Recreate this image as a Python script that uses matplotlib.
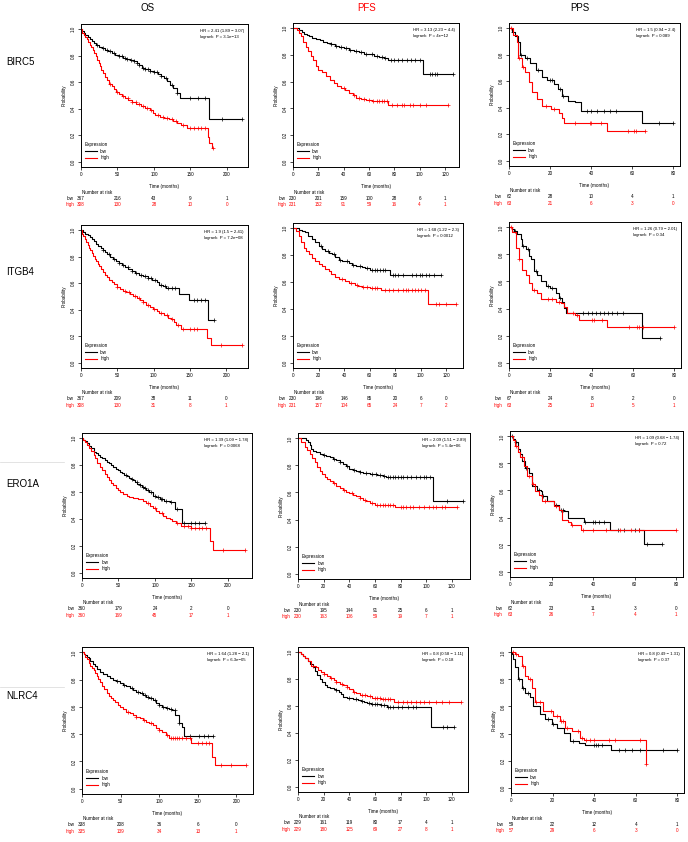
import matplotlib
matplotlib.use("Agg")
import matplotlib.pyplot as plt
from matplotlib.lines import Line2D
import numpy as np

plt.rcParams['font.family'] = ['Liberation Sans', 'DejaVu Sans']

genes = ["BIRC5", "ITGB4", "ERO1A", "NLRC4"]
endpoints = ["OS", "PFS", "PPS"]
os_ticks = [0, 50, 100, 150, 200]
pfs_ticks = [0, 20, 40, 60, 80, 100, 120]
pps_ticks = [0, 20, 40, 60, 80]

# ---------------- BIRC5 ----------------
birc5_os_low_t = [0, 2, 4, 6, 9, 12, 15, 18, 21, 25, 29, 33, 37, 42, 47, 52, 57, 62, 67, 72, 77, 80, 84, 88, 95, 100, 105, 110, 114, 118, 122, 126, 131, 136, 175]
birc5_os_low_s = [1.0, 0.985, 0.97, 0.955, 0.94, 0.925, 0.91, 0.895, 0.88, 0.865, 0.855, 0.845, 0.835, 0.82, 0.805, 0.795, 0.785, 0.775, 0.765, 0.76, 0.745, 0.73, 0.71, 0.70, 0.685, 0.675, 0.665, 0.65, 0.635, 0.61, 0.58, 0.56, 0.52, 0.48, 0.32]
birc5_os_low_end = 220
birc5_os_low_cens = [22, 30, 36, 40, 45, 52, 56, 60, 63, 68, 72, 77, 80, 85, 88, 92, 95, 100, 104, 110, 116, 125, 132, 150, 160, 170, 193, 220]
birc5_os_high_t = [0, 1, 2, 4, 6, 8, 10, 12, 14, 16, 18, 20, 22, 24, 26, 28, 30, 33, 36, 39, 42, 45, 48, 52, 56, 60, 65, 70, 76, 82, 88, 94, 98, 102, 108, 114, 120, 126, 132, 137, 145, 174, 176, 179]
birc5_os_high_s = [1.0, 0.985, 0.97, 0.955, 0.94, 0.925, 0.905, 0.885, 0.865, 0.845, 0.82, 0.795, 0.77, 0.745, 0.72, 0.695, 0.67, 0.64, 0.615, 0.59, 0.57, 0.55, 0.53, 0.51, 0.495, 0.48, 0.465, 0.45, 0.435, 0.42, 0.405, 0.39, 0.37, 0.355, 0.34, 0.33, 0.32, 0.305, 0.29, 0.275, 0.255, 0.19, 0.14, 0.10]
birc5_os_high_end = 181
birc5_os_high_cens = [40, 50, 58, 64, 70, 75, 80, 85, 90, 96, 105, 112, 118, 124, 130, 140, 150, 155, 160, 165, 170, 181]
birc5_os_risk_low = [367, 216, 43, 9, 1]
birc5_os_risk_high = [308, 130, 28, 10, 0]
birc5_os_hr = "HR = 2.41 (1.89 \u2212 3.07)"
birc5_os_p = "3.1e\u221213"

birc5_pfs_low_t = [0, 5, 7, 9, 11, 13, 15, 18, 21, 24, 27, 30, 33, 36, 40, 44, 48, 52, 56, 60, 64, 68, 72, 75, 103]
birc5_pfs_low_s = [1.0, 0.99, 0.975, 0.96, 0.95, 0.94, 0.93, 0.92, 0.91, 0.9, 0.89, 0.88, 0.87, 0.86, 0.85, 0.84, 0.83, 0.82, 0.81, 0.805, 0.795, 0.785, 0.775, 0.765, 0.658]
birc5_pfs_low_end = 126
birc5_pfs_low_cens = [30, 34, 38, 42, 45, 50, 54, 58, 62, 66, 70, 73, 77, 80, 83, 86, 90, 93, 96, 100, 108, 110, 112, 114, 126]
birc5_pfs_high_t = [0, 3, 4.5, 6, 8, 10, 12, 14, 16, 18, 20, 23, 26, 29, 32, 35, 38, 41, 44, 47, 50, 54, 58, 62, 75]
birc5_pfs_high_s = [1.0, 0.985, 0.966, 0.94, 0.9, 0.86, 0.83, 0.79, 0.76, 0.72, 0.69, 0.67, 0.645, 0.615, 0.59, 0.565, 0.55, 0.535, 0.515, 0.497, 0.48, 0.47, 0.46, 0.452, 0.426]
birc5_pfs_high_end = 122
birc5_pfs_high_cens = [40, 48, 52, 56, 60, 63, 66, 68, 70, 72, 74, 78, 82, 86, 88, 92, 95, 100, 105, 122]
birc5_pfs_risk_low = [230, 201, 159, 100, 28, 6, 1]
birc5_pfs_risk_high = [231, 152, 91, 59, 16, 4, 1]
birc5_pfs_hr = "HR = 3.13 (2.23 \u2212 4.4)"
birc5_pfs_p = "4e\u221212"

birc5_pps_low_t = [0, 1.3, 3, 4.6, 5.5, 8, 10.4, 13, 16, 18.7, 22, 23.7, 26, 28.6, 32, 35, 64.7]
birc5_pps_low_s = [1.0, 0.97, 0.94, 0.9, 0.8, 0.774, 0.735, 0.684, 0.632, 0.607, 0.58, 0.54, 0.49, 0.452, 0.44, 0.375, 0.285]
birc5_pps_low_end = 80
birc5_pps_low_cens = [2, 6, 9, 14, 20, 21, 25, 26.5, 38, 40, 43, 46, 49, 52, 73, 80]
birc5_pps_high_t = [0, 2, 3.8, 4.6, 6.3, 8, 9.6, 11.3, 13.7, 16.2, 20.4, 24.5, 26, 27, 47.7]
birc5_pps_high_s = [1.0, 0.95, 0.9, 0.774, 0.71, 0.67, 0.594, 0.517, 0.465, 0.414, 0.388, 0.362, 0.324, 0.285, 0.224]
birc5_pps_high_end = 66
birc5_pps_high_cens = [1, 5, 7, 18, 22, 32, 39.5, 40, 45, 58, 61, 62, 66]
birc5_pps_risk_low = [62, 28, 10, 4, 1]
birc5_pps_risk_high = [63, 21, 6, 3, 0]
birc5_pps_hr = "HR = 1.5 (0.94 \u2212 2.4)"
birc5_pps_p = "0.089"

# ---------------- ITGB4 ----------------
itgb4_os_low_t = [0, 3, 6, 9, 12, 15, 18, 21, 24, 27, 30, 33, 36, 40, 44, 48, 52, 56, 60, 65, 70, 75, 80, 86, 92, 98, 104, 108, 113, 117, 135, 149, 175]
itgb4_os_low_s = [1.0, 0.99, 0.975, 0.965, 0.95, 0.935, 0.92, 0.9, 0.88, 0.865, 0.85, 0.835, 0.82, 0.8, 0.785, 0.765, 0.75, 0.735, 0.72, 0.705, 0.69, 0.678, 0.665, 0.655, 0.642, 0.625, 0.61, 0.59, 0.578, 0.562, 0.521, 0.477, 0.323]
itgb4_os_low_end = 183
itgb4_os_low_cens = [30, 38, 45, 52, 58, 64, 70, 76, 82, 88, 92, 96, 102, 110, 115, 120, 125, 130, 155, 160, 165, 170, 183]
itgb4_os_high_t = [0, 1, 2, 3, 5, 7, 9, 11, 13, 15, 17, 19, 21, 23, 25, 27, 30, 33, 36, 39, 42, 45, 49, 53, 58, 62, 67, 72, 77, 81, 86, 90, 95, 99, 104, 108, 114, 120, 124, 128, 131, 137.6, 174, 178.6]
itgb4_os_high_s = [1.0, 0.985, 0.97, 0.955, 0.935, 0.91, 0.89, 0.87, 0.85, 0.83, 0.805, 0.785, 0.765, 0.745, 0.73, 0.71, 0.685, 0.665, 0.645, 0.625, 0.61, 0.595, 0.575, 0.56, 0.545, 0.533, 0.52, 0.505, 0.49, 0.47, 0.455, 0.438, 0.42, 0.405, 0.39, 0.379, 0.36, 0.34, 0.328, 0.31, 0.285, 0.251, 0.19, 0.131]
itgb4_os_high_end = 221
itgb4_os_high_cens = [50, 60, 66, 74, 80, 86, 92, 100, 110, 118, 125, 133, 140, 150, 155, 160, 193, 221]
itgb4_os_risk_low = [367, 209, 38, 11, 0]
itgb4_os_risk_high = [308, 130, 31, 8, 1]
itgb4_os_hr = "HR = 1.9 (1.5 \u2212 2.41)"
itgb4_os_p = "7.2e\u221208"

itgb4_pfs_low_t = [0, 4.4, 7, 9.6, 12, 14.8, 17, 20, 23, 25, 28, 30.4, 33, 35.6, 38, 40.8, 44, 46, 49, 51, 54, 56, 60, 76]
itgb4_pfs_low_s = [1.0, 0.99, 0.98, 0.97, 0.945, 0.919, 0.895, 0.869, 0.85, 0.831, 0.818, 0.806, 0.785, 0.768, 0.76, 0.755, 0.74, 0.73, 0.722, 0.717, 0.71, 0.705, 0.687, 0.654]
itgb4_pfs_low_end = 116
itgb4_pfs_low_cens = [22, 27, 32, 37, 42, 47, 52, 58, 62, 64, 66, 68, 70, 72, 78, 80, 82, 86, 93, 96, 99, 101, 104, 106, 110, 116]
itgb4_pfs_high_t = [0, 2, 4.4, 6, 8.3, 10, 12.2, 15, 17.4, 20, 22.6, 25, 27.8, 30, 33, 36, 40.8, 44, 48.6, 51, 53.8, 60, 69, 105.7]
itgb4_pfs_high_s = [1.0, 0.98, 0.944, 0.9, 0.856, 0.83, 0.806, 0.78, 0.755, 0.735, 0.717, 0.7, 0.679, 0.66, 0.641, 0.625, 0.609, 0.595, 0.578, 0.57, 0.561, 0.553, 0.54, 0.434]
itgb4_pfs_high_end = 127.8
itgb4_pfs_high_cens = [38, 45, 50, 55, 58, 62, 64, 66, 72, 75, 78, 82, 86, 88, 90, 93, 95, 98, 100, 103, 112, 114, 120, 127.8]
itgb4_pfs_risk_low = [230, 196, 146, 85, 20, 6, 0]
itgb4_pfs_risk_high = [231, 157, 104, 65, 24, 7, 2]
itgb4_pfs_hr = "HR = 1.68 (1.22 \u2212 2.3)"
itgb4_pfs_p = "0.0012"

itgb4_pps_low_t = [0, 1.6, 2.4, 4, 5.6, 6.5, 8, 9.7, 10.5, 12, 13.7, 15.3, 17.7, 20, 22.6, 24.2, 25.8, 26.6, 27.4, 64.5]
itgb4_pps_low_s = [1.0, 0.985, 0.97, 0.95, 0.913, 0.863, 0.838, 0.788, 0.763, 0.676, 0.651, 0.601, 0.564, 0.551, 0.514, 0.476, 0.451, 0.401, 0.364, 0.182]
itgb4_pps_low_end = 73
itgb4_pps_low_cens = [3, 7, 9, 13, 19, 21, 24.5, 36, 38, 40, 42, 44, 46, 48, 50, 52, 55, 73]
itgb4_pps_high_t = [0, 1.6, 3.2, 4.8, 6.5, 8, 9.7, 11.3, 13.7, 15.3, 22.6, 25, 26.6, 28.2, 32, 34, 47.6]
itgb4_pps_high_s = [1.0, 0.963, 0.85, 0.763, 0.688, 0.651, 0.589, 0.539, 0.514, 0.471, 0.451, 0.439, 0.414, 0.364, 0.352, 0.314, 0.262]
itgb4_pps_high_end = 80
itgb4_pps_high_cens = [1, 5, 12, 19, 21, 24, 31, 33, 40, 41, 45, 58, 62, 63, 65, 80]
itgb4_pps_risk_low = [67, 24, 8, 2, 0]
itgb4_pps_risk_high = [63, 25, 10, 5, 1]
itgb4_pps_hr = "HR = 1.26 (0.79 \u2212 2.01)"
itgb4_pps_p = "0.34"

# ---------------- ERO1A ----------------
ero1a_os_low_t = [0, 2, 4, 6.8, 9, 12, 15.9, 19, 22, 25, 28, 31, 34, 37, 40, 43, 46, 49, 52, 55, 58, 61, 64, 67, 70, 73, 76, 79, 82, 85, 88, 92, 97.5, 102, 106.6, 113, 120, 127, 137]
ero1a_os_low_s = [1.0, 0.99, 0.98, 0.965, 0.945, 0.925, 0.902, 0.89, 0.877, 0.864, 0.851, 0.839, 0.826, 0.813, 0.8, 0.788, 0.775, 0.763, 0.751, 0.74, 0.729, 0.718, 0.708, 0.698, 0.688, 0.675, 0.662, 0.65, 0.64, 0.628, 0.617, 0.6, 0.574, 0.562, 0.549, 0.537, 0.524, 0.474, 0.373]
ero1a_os_low_end = 168
ero1a_os_low_cens = [60, 68, 75, 80, 84, 86, 90, 95, 100, 104, 108, 110, 115, 122, 130, 140, 150, 155, 160, 168]
ero1a_os_high_t = [0, 2, 4, 6.8, 9, 12, 15.9, 18, 21, 25, 28, 31, 34, 37, 40, 43, 46, 49, 52, 56, 61, 65, 70, 77, 84, 88, 93, 97, 102, 106, 111, 115, 120, 124, 129, 136, 150, 175.5, 179]
ero1a_os_high_s = [1.0, 0.985, 0.97, 0.952, 0.93, 0.905, 0.877, 0.855, 0.82, 0.788, 0.765, 0.738, 0.713, 0.69, 0.668, 0.65, 0.632, 0.615, 0.6, 0.588, 0.574, 0.565, 0.557, 0.547, 0.537, 0.518, 0.499, 0.48, 0.461, 0.442, 0.423, 0.41, 0.398, 0.385, 0.373, 0.348, 0.335, 0.234, 0.171]
ero1a_os_high_end = 224
ero1a_os_high_cens = [90, 100, 110, 130, 140, 145, 150, 155, 160, 165, 170, 193, 224]
ero1a_os_risk_low = [360, 179, 24, 2, 0]
ero1a_os_risk_high = [360, 169, 45, 17, 1]
ero1a_os_hr = "HR = 1.39 (1.09 \u2212 1.78)"
ero1a_os_p = "0.0068"

ero1a_pfs_low_t = [0, 6, 7.8, 9, 10.4, 12, 14.3, 17, 19.5, 22, 24.7, 27, 30, 32.5, 35, 37.5, 40, 43, 45.6, 48, 50.8, 56, 62, 66.4, 69, 105.5]
ero1a_pfs_low_s = [1.0, 0.99, 0.975, 0.95, 0.925, 0.91, 0.9, 0.887, 0.874, 0.868, 0.862, 0.85, 0.837, 0.825, 0.812, 0.793, 0.774, 0.768, 0.762, 0.752, 0.741, 0.736, 0.73, 0.724, 0.711, 0.535]
ero1a_pfs_low_end = 129
ero1a_pfs_low_cens = [20, 28, 33, 38, 44, 48, 53, 58, 61, 64, 67, 70, 72, 74, 76, 78, 80, 82, 85, 88, 92, 95, 98, 100, 103, 116, 129]
ero1a_pfs_high_t = [0, 2.6, 5.2, 7, 9.1, 11, 13, 15, 17, 19, 20.8, 22.7, 24.7, 27, 30, 32.5, 35, 37.5, 40, 43, 45.6, 48, 50.8, 53, 56, 60, 76]
ero1a_pfs_high_s = [1.0, 0.975, 0.937, 0.912, 0.887, 0.855, 0.824, 0.792, 0.761, 0.736, 0.711, 0.698, 0.686, 0.667, 0.648, 0.632, 0.616, 0.607, 0.598, 0.585, 0.573, 0.56, 0.548, 0.535, 0.523, 0.51, 0.49]
ero1a_pfs_high_end = 123.7
ero1a_pfs_high_cens = [28, 36, 42, 48, 52, 58, 62, 64, 66, 68, 70, 72, 74, 80, 82, 84, 87, 90, 94, 98, 102, 105, 108, 112, 115, 123.7]
ero1a_pfs_risk_low = [230, 195, 144, 91, 25, 6, 1]
ero1a_pfs_risk_high = [230, 163, 106, 59, 19, 7, 1]
ero1a_pfs_hr = "HR = 2.09 (1.51 \u2212 2.89)"
ero1a_pfs_p = "5.4e\u221206"

ero1a_pps_low_t = [0, 1.6, 2.4, 4, 4.9, 5.7, 7.3, 9, 10.6, 13, 14.7, 15.5, 18, 20.4, 21.2, 23.6, 26, 27.7, 35.8, 48, 64.3]
ero1a_pps_low_s = [1.0, 0.98, 0.957, 0.907, 0.87, 0.82, 0.77, 0.732, 0.632, 0.607, 0.595, 0.557, 0.525, 0.52, 0.495, 0.457, 0.445, 0.40, 0.365, 0.3075, 0.207]
ero1a_pps_low_end = 73
ero1a_pps_low_cens = [1, 3, 7.5, 8, 14, 16, 22, 24.5, 25.5, 36, 40, 41, 43, 45, 52, 55, 60, 62, 66, 73]
ero1a_pps_high_t = [0, 1.6, 2.4, 4, 4.9, 6.5, 8.1, 10.6, 12.2, 13.8, 15.5, 21.2, 23.6, 25.2, 27.7, 29.3, 34.2]
ero1a_pps_high_s = [1.0, 0.97, 0.932, 0.882, 0.845, 0.782, 0.707, 0.645, 0.595, 0.57, 0.52, 0.482, 0.457, 0.382, 0.37, 0.345, 0.307]
ero1a_pps_high_end = 80
ero1a_pps_high_cens = [3, 6, 9, 11, 17, 22, 30, 35, 40, 46, 53, 58, 62, 80]
ero1a_pps_risk_low = [62, 23, 11, 3, 0]
ero1a_pps_risk_high = [63, 26, 7, 4, 1]
ero1a_pps_hr = "HR = 1.09 (0.68 \u2212 1.74)"
ero1a_pps_p = "0.72"

# ---------------- NLRC4 ----------------
nlrc4_os_low_t = [0, 2, 4, 6, 8.5, 11, 14, 17, 20, 23.4, 27, 32, 36, 40, 44, 49, 53, 57.4, 62, 66, 70, 74.5, 79, 83, 87, 91.5, 96, 100, 104, 108.5, 113, 117, 121, 125.5, 130, 132]
nlrc4_os_low_s = [1.0, 0.99, 0.98, 0.97, 0.958, 0.94, 0.918, 0.897, 0.878, 0.86, 0.845, 0.828, 0.814, 0.80, 0.787, 0.774, 0.762, 0.75, 0.737, 0.725, 0.712, 0.70, 0.688, 0.676, 0.663, 0.651, 0.632, 0.614, 0.602, 0.59, 0.583, 0.577, 0.54, 0.479, 0.455, 0.388]
nlrc4_os_low_end = 170
nlrc4_os_low_cens = [45, 55, 65, 72, 78, 82, 86, 90, 95, 100, 105, 110, 115, 120, 126, 140, 152, 158, 163, 170]
nlrc4_os_high_t = [0, 2, 4.3, 6, 8.5, 11, 13, 15, 17, 19, 21, 23.4, 26, 29, 32, 35, 38, 40, 43, 46, 49, 53, 57.4, 62, 66, 70, 74.5, 79, 83, 87, 91.5, 96, 100, 104, 108.5, 113, 141.7, 168, 172]
nlrc4_os_high_s = [1.0, 0.985, 0.97, 0.95, 0.921, 0.9, 0.887, 0.872, 0.85, 0.828, 0.806, 0.786, 0.757, 0.728, 0.70, 0.68, 0.662, 0.651, 0.634, 0.617, 0.60, 0.582, 0.565, 0.552, 0.54, 0.528, 0.516, 0.503, 0.491, 0.479, 0.467, 0.448, 0.43, 0.412, 0.393, 0.369, 0.337, 0.233, 0.172]
nlrc4_os_high_end = 213
nlrc4_os_high_cens = [60, 70, 80, 90, 100, 110, 115, 118, 120, 123, 126, 130, 135, 140, 150, 155, 160, 165, 180, 193, 213]
nlrc4_os_risk_low = [338, 208, 36, 6, 0]
nlrc4_os_risk_high = [335, 139, 34, 13, 1]
nlrc4_os_hr = "HR = 1.64 (1.28 \u2212 2.1)"
nlrc4_os_p = "6.3e\u221205"

nlrc4_pfs_low_t = [0, 2, 3.8, 5.7, 7.6, 9.5, 11.4, 13.3, 15.2, 17, 19, 21, 22.7, 25, 27.8, 29.7, 31.6, 33.5, 35.4, 38, 40.4, 43, 46.7, 49, 51.8, 54, 56.8, 64.4, 69.4, 104]
nlrc4_pfs_low_s = [1.0, 0.99, 0.975, 0.957, 0.939, 0.915, 0.89, 0.86, 0.828, 0.803, 0.779, 0.76, 0.743, 0.736, 0.73, 0.718, 0.706, 0.687, 0.669, 0.663, 0.657, 0.651, 0.645, 0.638, 0.632, 0.622, 0.613, 0.608, 0.591, 0.444]
nlrc4_pfs_low_end = 122
nlrc4_pfs_low_cens = [30, 40, 45, 50, 55, 58, 60, 62, 65, 67, 70, 72, 74, 78, 81, 86, 90, 92, 113, 116, 122]
nlrc4_pfs_high_t = [0, 2, 3.8, 5.7, 7.6, 10, 13.9, 15.8, 17.7, 20, 22.7, 25, 27.8, 30, 32.8, 35, 37.9, 40, 42.9, 45, 48, 54, 58, 64.4, 74.5]
nlrc4_pfs_high_s = [1.0, 0.99, 0.975, 0.957, 0.939, 0.902, 0.89, 0.872, 0.853, 0.837, 0.821, 0.807, 0.792, 0.78, 0.767, 0.755, 0.743, 0.725, 0.706, 0.694, 0.681, 0.674, 0.657, 0.65, 0.632]
nlrc4_pfs_high_end = 127.5
nlrc4_pfs_high_cens = [12, 20, 26, 30, 34, 38, 44, 50, 52, 56, 60, 62, 64, 66, 68, 70, 72, 78, 82, 85, 88, 92, 95, 98, 102, 108, 112, 118, 127.5]
nlrc4_pfs_risk_low = [229, 161, 119, 80, 17, 4, 1]
nlrc4_pfs_risk_high = [229, 180, 125, 69, 27, 8, 1]
nlrc4_pfs_hr = "HR = 0.8 (0.58 \u2212 1.11)"
nlrc4_pfs_p = "0.18"

nlrc4_pps_low_t = [0, 0.5, 1.1, 1.9, 3.5, 5.2, 6.8, 9.2, 10.8, 14, 16.4, 19.6, 22, 25.3, 28.5, 32.5, 35.7, 48.3]
nlrc4_pps_low_s = [1.0, 0.985, 0.95, 0.889, 0.80, 0.738, 0.70, 0.667, 0.605, 0.543, 0.506, 0.469, 0.444, 0.407, 0.346, 0.333, 0.316, 0.277]
nlrc4_pps_low_end = 80
nlrc4_pps_low_cens = [4, 6, 8, 18, 20, 30, 40, 41, 42, 44, 52, 55, 58, 62, 73, 80]
nlrc4_pps_high_t = [0, 1.9, 3.5, 5.2, 6.8, 8.4, 10, 11.6, 15.6, 20.4, 23.7, 26, 29.3, 33.3, 35, 64.7]
nlrc4_pps_high_s = [1.0, 0.99, 0.975, 0.90, 0.827, 0.80, 0.738, 0.63, 0.568, 0.531, 0.494, 0.444, 0.42, 0.37, 0.353, 0.178]
nlrc4_pps_high_end = 65
nlrc4_pps_high_cens = [1, 2.5, 6, 9, 12, 14, 19, 22, 24, 25, 27, 32, 34, 36, 38, 40, 47, 50, 62, 65]
nlrc4_pps_risk_low = [59, 22, 12, 4, 1]
nlrc4_pps_risk_high = [57, 29, 6, 3, 0]
nlrc4_pps_hr = "HR = 0.8 (0.49 \u2212 1.31)"
nlrc4_pps_p = "0.37"

# ---------------- layout (pixel boxes: left, top, right, bottom) ----------------
W, H = 688, 842
boxes = [
    [(81, 24, 248, 167), (293, 23, 459, 167), (509, 23, 680, 166)],
    [(81, 225, 248, 368), (293, 223, 463, 368), (509, 222, 681, 368)],
    [(82, 433, 252, 578), (298, 433, 470, 579), (510, 431, 683, 577)],
    [(82, 647, 253, 794), (298, 647, 468, 792), (511, 647, 684, 793)],
]
col_title_x = [148, 367, 580]
row_label_y = [62, 272, 484, 696]
ticks_by_ep = {"OS": os_ticks, "PFS": pfs_ticks, "PPS": pps_ticks}

g = globals()
RED = "#ff0000"
FS = 3.3

fig = plt.figure(figsize=(W / 100, H / 100), dpi=100)

for ci, ep in enumerate(endpoints):
    fig.text(col_title_x[ci] / W, 1 - 8 / H, ep, ha="center", va="center",
             fontsize=7, color=(RED if ep == "PFS" else "black"))
for ri, gname in enumerate(genes):
    fig.text(6 / W, 1 - row_label_y[ri] / H, gname, ha="left", va="center", fontsize=7)

# faint scan artifact lines at left
for yy in (462, 687):
    fig.add_artist(Line2D([0, 64 / W], [1 - yy / H, 1 - yy / H], color="#d8d8d8", lw=0.5))


def step_val(t, s, x):
    i = np.searchsorted(np.asarray(t), x, side="right") - 1
    return np.asarray(s)[i]


for ri, gname in enumerate(genes):
    for ci, ep in enumerate(endpoints):
        key = f"{gname.lower()}_{ep.lower()}"
        l, t, r, b = boxes[ri][ci]
        ax = fig.add_axes([l / W, 1 - b / H, (r - l) / W, (b - t) / H])
        ends = []
        for grp, col in (("low", "black"), ("high", RED)):
            tt = g[f"{key}_{grp}_t"]
            ss = g[f"{key}_{grp}_s"]
            en = g[f"{key}_{grp}_end"]
            cc = g[f"{key}_{grp}_cens"]
            ends.append(en)
            ax.step(list(tt) + [en], list(ss) + [ss[-1]], where="post", color=col, lw=0.8)
            cy = step_val(tt, ss, np.asarray(cc))
            ax.plot(cc, cy, ls="none", marker="+", ms=2.6, mew=0.5, color=col)
        xmax = max(ends) * 1.04
        ax.set_xlim(0, xmax)
        ax.set_ylim(-0.04, 1.04)
        ticks = ticks_by_ep[ep]
        ax.set_xticks(ticks)
        ax.set_xticklabels([str(v) for v in ticks])
        ax.set_yticks([0, 0.2, 0.4, 0.6, 0.8, 1.0])
        ax.set_yticklabels(["0.0", "0.2", "0.4", "0.6", "0.8", "1.0"], rotation=90, va="center")
        ax.tick_params(length=2, width=0.5, pad=1.5, labelsize=FS)
        for sp in ax.spines.values():
            sp.set_linewidth(0.7)
        ax.set_ylabel("Probability", fontsize=FS, labelpad=3)
        ax.set_xlabel("Time (months)", fontsize=FS, labelpad=5)

        hr = g[f"{key}_hr"]
        pv = g[f"{key}_p"]
        ax.text(0.975, 0.965, f"{hr}\nlogrank  P = {pv}", transform=ax.transAxes,
                ha="right", va="top", multialignment="left", fontsize=FS - 0.2,
                linespacing=1.6)

        handles = [Line2D([], [], color="black", lw=0.8), Line2D([], [], color=RED, lw=0.8)]
        leg = ax.legend(handles, ["low", "high"], title="Expression", loc="lower left",
                        bbox_to_anchor=(0.0, 0.02), frameon=False, fontsize=FS,
                        title_fontsize=FS, handlelength=2.6, handletextpad=0.8,
                        labelspacing=0.35, borderpad=0.3, alignment="left")

        # number at risk table
        px2pt = 0.72
        ax.annotate("Number at risk", xy=(0, 0), xycoords="axes fraction",
                    xytext=(1 * px2pt, -25 * px2pt), textcoords="offset points",
                    ha="left", va="center", fontsize=FS)
        for grp, col, off in (("low", "black", 31), ("high", RED, 37.5)):
            vals = g[f"{key}_risk_{grp}"]
            ax.annotate(grp, xy=(0, 0), xycoords="axes fraction",
                        xytext=(-7 * px2pt, -off * px2pt), textcoords="offset points",
                        ha="right", va="center", fontsize=FS, color=col)
            for tv, nv in zip(ticks, vals):
                ax.annotate(str(nv), xy=(tv, 0), xycoords=("data", "axes fraction"),
                            xytext=(0, -off * px2pt), textcoords="offset points",
                            ha="center", va="center", fontsize=FS, color=col)

fig.savefig("out.png", dpi=100, facecolor="white")
